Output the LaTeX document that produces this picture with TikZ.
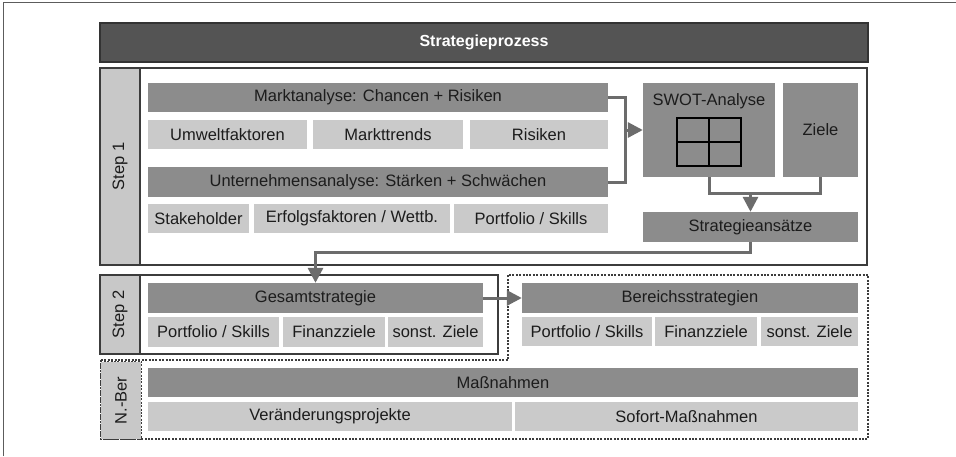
\documentclass[tikz,border=0pt]{standalone}
\usepackage{fontspec}
\setmainfont{Liberation Sans}
\usetikzlibrary{arrows.meta}

\definecolor{headGray}{HTML}{545454}
\definecolor{headEdge}{HTML}{333333}
\definecolor{midGray}{HTML}{8C8C8C}
\definecolor{lightGray}{HTML}{CACACA}
\definecolor{labGray}{HTML}{C8C8C8}
\definecolor{frameGray}{HTML}{3C3C3C}
\definecolor{connGray}{HTML}{6C6C6C}
\definecolor{inkGray}{HTML}{1C1C1C}

\begin{document}
\begin{tikzpicture}[x=1pt,y=-1pt,
  font=\fontsize{16.5}{19}\selectfont,
  cell/.style={inner sep=0pt, minimum height=29pt, text=inkGray},
  midbar/.style={cell, fill=midGray},
  litebox/.style={cell, fill=lightGray},
  stepframe/.style={draw=frameGray, line width=1.2pt, fill=white, inner sep=0pt},
  steplabel/.style={draw=frameGray, line width=1.2pt, fill=labGray, inner sep=0pt,
    rotate=90, minimum height=40pt, text=inkGray},
  dashline/.style={draw=frameGray, line width=1.1pt, dash pattern=on 2pt off 1.4pt},
  conn/.style={draw=connGray, line width=3pt},
  arr/.style={conn, -{Triangle[length=15pt,width=15pt]}},
]
% page and thin outer frame
\fill[white] (0,0) rectangle (956,456);
\useasboundingbox (0,0) rectangle (956,456);
\draw[headEdge!80, line width=0.8pt] (3,456) -- (3,2) -- (956,2);

% title bar
\node[draw=headEdge, line width=1.2pt, fill=headGray, inner sep=0pt,
  minimum width=768pt, minimum height=39pt, text=white, font=\fontsize{16}{19}\selectfont\bfseries]
  (title) at (484,42.5) {Strategieprozess};

% ---------- Step 1 ----------
\node[stepframe, minimum width=767pt, minimum height=197pt] (frame1) at (483.5,166.5) {};
\node[steplabel, minimum width=197pt] (lab1) at (120,166.5) {Step 1};

\node[midbar, minimum width=460pt] (markt) at (378,97.5) {Marktanalyse: Chancen + Risiken};
\node[litebox, minimum width=159pt] (umwelt) at (227.5,134.5) {Umweltfaktoren};
\node[litebox, minimum width=150pt] (trends) at (388,134.5) {Markttrends};
\node[litebox, minimum width=138pt] (risiken) at (539,134.5) {Risiken};

\node[midbar, minimum width=460pt, minimum height=30pt] (unt) at (378,182) {Unternehmensanalyse: Stärken + Schwächen};
\node[litebox, minimum width=101pt] (stake) at (198.5,218.5) {Stakeholder};
\node[litebox, minimum width=196pt] (erfolg) at (352,218.5) {Erfolgsfaktoren / Wettb.};
\node[litebox, minimum width=154pt] (portA) at (531,218.5) {Portfolio / Skills};

\node[midbar, minimum width=132pt, minimum height=94pt] (swot) at (709,130) {};
\node[text=inkGray, anchor=north] (swotT) at (709,90) {SWOT-Analyse};
\draw[black, line width=1.1pt] (677,118) rectangle (741,166)
  (709,118) -- (709,166) (677,142) -- (741,142);
\node[midbar, minimum width=75pt, minimum height=94pt] (ziele) at (820.5,130) {Ziele};

\node[midbar, minimum width=215pt, minimum height=30pt] (strat) at (750.5,227) {Strategieansätze};

% analyses feed the SWOT
\coordinate (mk) at (625,130);
\draw[conn] (markt.east) -- ++(17,0) |- (unt.east);
\draw[arr] (mk) -- (swot.west);

% SWOT and goals join into the approaches
\coordinate (sj) at (750.5,193);
\draw[conn] (swot.south) |- (sj) -| (ziele.south);
\draw[arr] (sj) -- (strat.north);

% ---------- Step 2 / departments (dashed outline) ----------
\draw[dashline] (101,360) -- (508,360) -- (508,275) -- (868,275) -- (868,439) -- (101,439) -- cycle;

\node[stepframe, minimum width=398pt, minimum height=79pt] (frame2) at (299,314.5) {};
\node[steplabel, minimum width=79pt] (lab2) at (120,314.5) {Step 2};

\node[midbar, minimum width=335pt, minimum height=30pt] (gesamt) at (315.5,298) {Gesamtstrategie};
\node[litebox, minimum width=131pt, minimum height=30pt] (portB) at (213.5,332) {Portfolio / Skills};
\node[litebox, minimum width=102pt, minimum height=30pt] (finB) at (334,332) {Finanzziele};
\node[litebox, minimum width=95pt, minimum height=30pt] (sonstB) at (435.5,332) {sonst. Ziele};

\node[midbar, minimum width=336pt, minimum height=30pt] (bereich) at (690,298) {Bereichsstrategien};
\node[litebox, minimum width=130pt] (portC) at (587,331.5) {Portfolio / Skills};
\node[litebox, minimum width=102pt] (finC) at (706,331.5) {Finanzziele};
\node[litebox, minimum width=97pt] (sonstC) at (809.5,331.5) {sonst. Ziele};

% approaches lead to the overall strategy, which leads to the departments
\draw[arr] (strat.south) -- ++(0,10) -| (gesamt.north);
\draw[arr] (gesamt.east) -- (bereich.west);

% ---------- measures ----------
\node[steplabel, draw=none, fill=labGray, minimum width=77pt] (lab3) at (121,400.5) {N.-Ber};
\draw[dashline] (lab3.north west) rectangle (lab3.south east);

\node[midbar, minimum width=710pt] (mass) at (503,382.5) {Maßnahmen};
\node[litebox, minimum width=364pt] (veraend) at (330,416.5) {Veränderungsprojekte};
\node[litebox, minimum width=343pt] (sofort) at (686.5,416.5) {Sofort-Maßnahmen};
\end{tikzpicture}
\end{document}
